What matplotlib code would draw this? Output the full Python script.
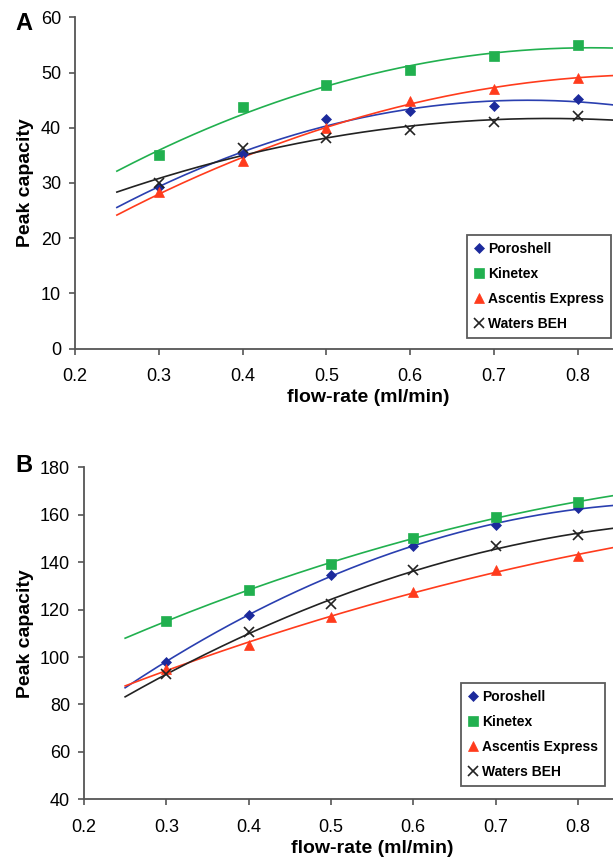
import numpy as np
import matplotlib
matplotlib.use("Agg")
import matplotlib.pyplot as plt

plt.rcParams['font.family'] = ['Liberation Sans', 'DejaVu Sans']

flow = [0.3, 0.4, 0.5, 0.6, 0.7, 0.8]
series_names = ['Poroshell', 'Kinetex', 'Ascentis Express', 'Waters BEH']

# panel A peak capacities
poroshell_a = [29.2, 35.3, 41.5, 43.0, 44.0, 45.2]
kinetex_a = [35.1, 43.8, 47.7, 50.5, 53.0, 55.0]
ascentis_a = [28.3, 34.0, 40.0, 44.9, 47.1, 49.0]
waters_a = [30.0, 36.4, 38.2, 39.6, 41.0, 42.1]

# panel B peak capacities
poroshell_b = [98.0, 117.8, 134.5, 147.0, 155.5, 162.8]
kinetex_b = [115.2, 128.4, 139.4, 150.0, 159.2, 165.2]
ascentis_b = [95.0, 105.2, 116.8, 127.6, 136.6, 142.6]
waters_b = [92.8, 110.6, 122.4, 136.6, 147.0, 151.4]

colors = ['#1c2a9c', '#21b04f', '#ff3b1c', '#222222']
line_colors = ['#2a3fb0', '#21b04f', '#ff3b1c', '#222222']
markers = ['D', 's', '^', 'x']
msizes = [5.5, 6.5, 7, 7]

fig = plt.figure(figsize=(6.13, 8.58), dpi=100)
ax_a = fig.add_axes([0.1223, 0.5938, 0.957, 0.386])
ax_b = fig.add_axes([0.137, 0.0684, 0.940, 0.3869])

x_fit = np.linspace(0.25, 0.9, 200)


def draw_panel(ax, data, ylim, yticks, legend_pos, ylabel_pad):
    handles = []
    for ys, c, lc, m, ms, name in zip(data, colors, line_colors, markers, msizes, series_names):
        # second order trendline through each series
        coef = np.polyfit(flow, ys, 2)
        ax.plot(x_fit, np.polyval(coef, x_fit), color=lc, lw=1.2, zorder=2)
        mew = 1.2 if m == 'x' else 0.5
        h, = ax.plot(flow, ys, ls='none', marker=m, ms=ms, color=c, mec=c, mew=mew, zorder=3, label=name)
        handles.append(h)
    ax.set_xlim(0.2, 0.9)
    ax.set_ylim(*ylim)
    ax.set_yticks(yticks)
    ax.set_xticks([0.2, 0.3, 0.4, 0.5, 0.6, 0.7, 0.8])
    ax.set_xticklabels(['0.2', '0.3', '0.4', '0.5', '0.6', '0.7', '0.8'])
    for s in ['top', 'right']:
        ax.spines[s].set_visible(False)
    for s in ['left', 'bottom']:
        ax.spines[s].set_color('#555555')
        ax.spines[s].set_linewidth(1.3)
    ax.tick_params(direction='out', length=4, width=1.2, color='#555555', labelsize=13)
    ax.tick_params(axis='x', pad=10)
    ax.tick_params(axis='y', pad=6)
    ax.set_xlabel('flow-rate (ml/min)', fontsize=14, fontweight='bold', labelpad=3)
    ax.set_ylabel('Peak capacity', fontsize=14, fontweight='bold', labelpad=ylabel_pad)
    leg = ax.legend(handles=handles, loc='lower left', bbox_to_anchor=legend_pos,
                    bbox_transform=fig.transFigure, frameon=True, fancybox=False,
                    prop={'weight': 'bold', 'size': 10}, handlelength=0.7,
                    handletextpad=0.3, labelspacing=0.8, borderpad=0.5,
                    borderaxespad=0)
    leg.get_frame().set_edgecolor('#333333')
    leg.get_frame().set_linewidth(1.3)


draw_panel(ax_a, [poroshell_a, kinetex_a, ascentis_a, waters_a], (0, 60), range(0, 61, 10),
           (467 / 613, 1 - 338 / 858), 5)
draw_panel(ax_b, [poroshell_b, kinetex_b, ascentis_b, waters_b], (40, 180), range(40, 181, 20),
           (461 / 613, 1 - 786 / 858), 4)

fig.text(24 / 613, 1 - 23 / 858, 'A', fontsize=17, fontweight='bold', ha='center', va='center')
fig.text(24 / 613, 1 - 465 / 858, 'B', fontsize=17, fontweight='bold', ha='center', va='center')

fig.savefig('out.png', dpi=100)
